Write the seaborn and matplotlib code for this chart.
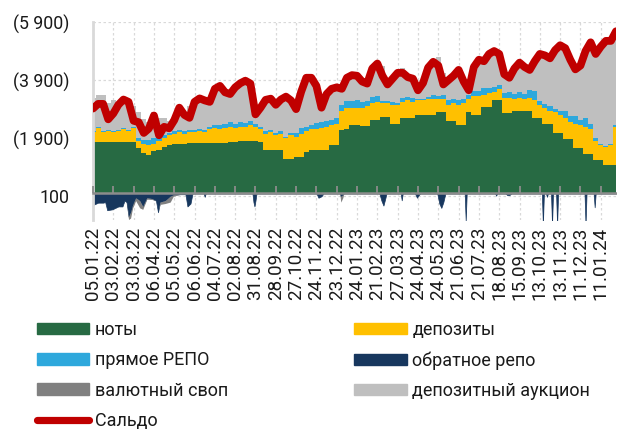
import numpy as np
import pandas as pd
import matplotlib
matplotlib.use("Agg")
import matplotlib.pyplot as plt
import seaborn as sns
from matplotlib.patches import Patch
from matplotlib.lines import Line2D

# ---------------- data (bn rub; absorption shown upward, provision downward) ----------------
tick_labels = ['05.01.22', '03.02.22', '03.03.22', '06.04.22', '05.05.22', '06.06.22', '04.07.22',
               '02.08.22', '31.08.22', '28.09.22', '27.10.22', '24.11.22', '23.12.22', '24.01.23',
               '21.02.23', '27.03.23', '24.04.23', '24.05.23', '21.06.23', '21.07.23', '18.08.23',
               '15.09.23', '13.10.23', '13.11.23', '11.12.23', '11.01.24']
days_per_label = 20      # trading days between axis labels
days_per_point = 5       # sampling of the stacked series below
last_day = 515

series_names = ['ноты', 'прямое РЕПО', 'валютный своп', 'Сальдо',
                'депозиты', 'обратное репо', 'депозитный аукцион']

notes = [1770, 1770, 1770, 1770, 1770, 1770, 1770, 1770, 1770, 1550,
         1400, 1320, 1450, 1500, 1580, 1650, 1690, 1700, 1710, 1720,
         1720, 1740, 1750, 1750, 1720, 1720, 1720, 1760, 1770, 1790,
         1800, 1800, 1790, 1780, 1490, 1490, 1480, 1480, 1200, 1200,
         1250, 1250, 1440, 1480, 1480, 1480, 1480, 1650, 1650, 2180,
         2200, 2350, 2350, 2310, 2310, 2520, 2520, 2630, 2630, 2400,
         2400, 2610, 2610, 2610, 2690, 2690, 2690, 2690, 2790, 2790,
         2500, 2500, 2350, 2350, 2790, 2700, 2700, 2970, 2970, 3210,
         3210, 2780, 2780, 2830, 2830, 2830, 2830, 2610, 2610, 2380,
         2380, 2070, 2070, 1880, 1880, 1570, 1570, 1360, 1360, 1160,
         1160, 960, 960, 960]

deposits = [330, 480, 330, 380, 330, 380, 430, 380, 480, 250,
            300, 330, 250, 300, 320, 350, 360, 400, 340, 380,
            380, 410, 350, 450, 530, 480, 530, 540, 480, 510,
            500, 550, 510, 420, 560, 610, 520, 570, 700, 800,
            700, 800, 710, 720, 720, 770, 820, 700, 750, 670,
            750, 600, 600, 640, 690, 580, 630, 470, 470, 650,
            650, 540, 590, 540, 510, 510, 560, 560, 460, 460,
            550, 600, 700, 750, 460, 650, 650, 430, 480, 290,
            390, 520, 520, 420, 470, 420, 470, 590, 440, 570,
            470, 730, 630, 720, 570, 830, 780, 940, 840, 640,
            490, 640, 690, 1340]

direct_repo = [40, 40, 40, 40, 40, 40, 40, 40, 40, 120,
               150, 200, 200, 120, 100, 80, 80, 80, 80, 80,
               80, 80, 80, 80, 120, 150, 150, 150, 150, 150,
               120, 150, 80, 80, 80, 80, 80, 80, 40, 80,
               120, 200, 150, 150, 220, 220, 180, 180, 180, 180,
               220, 220, 250, 180, 180, 220, 200, 80, 80, 80,
               60, 120, 120, 120, 60, 60, 80, 120, 100, 130,
               180, 150, 150, 150, 150, 180, 180, 220, 180, 150,
               120, 150, 180, 180, 180, 180, 250, 330, 120, 120,
               150, 120, 150, 250, 220, 250, 180, 300, 180, 120,
               40, 40, 40, 40]

deposit_auction = [1160, 1110, 1260, 910, 1060, 960, 1090, 1060, 710, 880,
                   700, 600, 900, 680, 600, 420, 470, 820, 620, 820,
                   1070, 1070, 1070, 890, 1250, 1370, 1100, 990, 1270, 1360,
                   1480, 1300, 520, 700, 1110, 1100, 990, 1120, 1410, 1140,
                   850, 1270, 1700, 1650, 1360, 580, 960, 1090, 1090, 720,
                   830, 920, 870, 740, 620, 1000, 1140, 1220, 670, 840,
                   1060, 1030, 700, 700, 390, 560, 1020, 1180, 1350, 770,
                   720, 820, 1070, 650, 180, 840, 1090, 950, 1190, 1300,
                   1100, 670, 550, 890, 1040, 940, 720, 1040, 1650, 1700,
                   1670, 2030, 2270, 2170, 1950, 1640, 1890, 2320, 2840, 2900,
                   3380, 3630, 3580, 3260]

saldo = [2920, 3080, 3080, 2550, 2750, 3050, 3230, 3150, 2500, 2450,
         2080, 2230, 2680, 2000, 2290, 2240, 2520, 2950, 2700, 2600,
         3150, 3270, 3200, 3150, 3600, 3700, 3480, 3420, 3650, 3790,
         3880, 3780, 2720, 2950, 3220, 3260, 3050, 3230, 3330, 3200,
         2900, 3500, 3980, 3980, 3700, 2950, 3420, 3600, 3650, 3600,
         3980, 4070, 4050, 3850, 3780, 4300, 4470, 4050, 3750, 3950,
         4150, 4150, 4000, 3950, 3550, 3800, 4330, 4530, 4400, 3750,
         3900, 4050, 4250, 3850, 3550, 4350, 4600, 4550, 4800, 4900,
         4800, 4100, 3980, 4300, 4500, 4350, 4250, 4550, 4800, 4750,
         4650, 4930, 5100, 5000, 4600, 4270, 4400, 4900, 5200, 4800,
         5050, 5250, 5250, 5580]

# liquidity provision (trading-day index, value)
neg_days = [0, 5, 10, 12, 14, 19, 25, 29, 31, 33, 35, 37, 39, 42, 46, 49, 53, 58, 62, 64,
            66, 71, 76, 79, 86, 91, 93, 96, 98,
            109, 110, 111, 157, 158, 159, 160, 161, 220, 222, 225, 227, 243, 244, 246, 247,
            282, 284, 286, 288, 289, 303, 304, 305, 317, 319, 321, 322, 339, 341, 343, 345, 347,
            366, 367, 368, 396, 397, 398, 406, 408, 410, 412, 442, 443, 444, 446, 447, 448,
            451, 452, 453, 456, 457, 458, 484, 485, 486, 493, 494, 495, 515]
reverse_repo = [400, 320, 320, 300, 580, 550, 450, 450, 250, 300, 800, 650, 400, 150, 250, 450, 150, 180, 250, 650,
                300, 250, 100, 50, 30, 30, 450, 350, 0,
                0, 120, 0, 0, 300, 450, 250, 0, 0, 150, 100, 0, 0, 100, 50, 0,
                0, 250, 420, 150, 0, 0, 240, 0, 0, 150, 50, 0, 0, 350, 500, 300, 0,
                0, 950, 0, 0, 80, 0, 0, 60, 60, 0, 0, 1100, 0, 0, 120, 0,
                0, 1100, 0, 0, 1100, 0, 0, 1100, 0, 0, 480, 0, 0]
fx_swap = [0, 0, 0, 0, 0, 0, 0, 0, 0, 0, 100, 200, 100, 100, 250, 100, 50, 30, 0, 0,
           80, 100, 200, 50, 0, 0, 0, 0, 0,
           0, 0, 0, 0, 0, 0, 0, 0, 0, 0, 0, 0, 0, 200, 100, 0,
           0, 0, 0, 0, 0, 0, 0, 0, 0, 0, 0, 0, 0, 0, 0, 0, 0,
           0, 0, 0, 0, 0, 0, 0, 0, 0, 0, 0, 0, 0, 0, 0, 0,
           0, 0, 0, 0, 0, 0, 0, 0, 0, 0, 0, 0, 0]

y_ticks = [-100, 1900, 3900, 5900]
y_tick_labels = ['100', '(1 900)', '(3 900)', '(5 900)']

# ---------------- style ----------------
GREEN, YELLOW, BLUE = '#276A43', '#FFC000', '#2EA8DC'
NAVY, DGREY, LGREY, RED = '#17375E', '#808080', '#BFBFBF', '#C00000'
AXC = '#D9D9D9'
TXT = '#1A1A1A'

sns.set_style('white')
plt.rcParams['font.family'] = ['Roboto', 'DejaVu Sans']

fig = plt.figure(figsize=(6.17, 4.29), dpi=100)
ax = fig.add_axes([93 / 617, 1 - 219.5 / 429, 523 / 617, 197.5 / 429])

days = np.arange(len(notes)) * days_per_point
df = pd.DataFrame({'day': days, 'saldo': saldo})

base = np.zeros(len(days))
for vals, col in zip([notes, deposits, direct_repo, deposit_auction], [GREEN, YELLOW, BLUE, LGREY]):
    top = base + np.asarray(vals, dtype=float)
    ax.fill_between(days, base, top, step='mid', color=col, lw=0, zorder=2)
    base = top

nr = np.asarray(reverse_repo, dtype=float)
fs = np.asarray(fx_swap, dtype=float)
ax.fill_between(neg_days, 0, -nr, facecolor=NAVY, edgecolor=NAVY, lw=0.5, zorder=2)
ax.fill_between(neg_days, -nr, -(nr + fs), facecolor=DGREY, lw=0, zorder=2)

sns.lineplot(data=df, x='day', y='saldo', ax=ax, color=RED, linewidth=5.6,
             solid_capstyle='round', solid_joinstyle='round', zorder=5, legend=False)

ymin, ymax = -900, 5900
ax.set_xlim(0, last_day)
ax.set_ylim(ymin, ymax)
ax.set_xlabel('')
ax.set_ylabel('')

xt = np.arange(len(tick_labels)) * days_per_label
ax.set_xticks(xt)
ax.set_xticklabels(tick_labels, rotation=90, fontsize=13.5, color=TXT)
ax.tick_params(axis='x', length=0, pad=5)

ax.set_yticks(y_ticks)
ax.set_yticklabels(y_tick_labels, fontsize=12.8, color=TXT)
ax.set_yticks(np.arange(ymin, ymax + 1, 400), minor=True)
ax.tick_params(axis='y', which='both', direction='out', length=5, width=1.5, color=AXC, pad=12)

ax.set_axisbelow(True)
ax.grid(axis='y', which='major', color=AXC, ls=(0, (2, 2)), lw=0.9)
ax.grid(axis='x', which='major', color=AXC, ls=(0, (2, 2)), lw=0.9)
ax.grid(axis='y', which='minor', visible=False)

for s in ['top', 'right', 'bottom']:
    ax.spines[s].set_visible(False)
ax.spines['left'].set_color(AXC)
ax.spines['left'].set_linewidth(2)

# category axis line crossing at zero
sec = ax.secondary_xaxis((0 - ymin) / (ymax - ymin))
sec.set_xticks(xt)
sec.tick_params(axis='x', direction='in', length=5, width=1.3, color='#8C8C8C', labelbottom=False, labeltop=False)
for s in sec.spines.values():
    s.set_color('#8C8C8C')
    s.set_linewidth(1.8)
sec.set_zorder(4)

handles = [
    Patch(color=GREEN, label=series_names[0]),
    Patch(color=BLUE, label=series_names[1]),
    Patch(color=DGREY, label=series_names[2]),
    Line2D([], [], color=RED, lw=5.2, solid_capstyle='round', label=series_names[3]),
    Patch(color=YELLOW, label=series_names[4]),
    Patch(color=NAVY, label=series_names[5]),
    Patch(color=LGREY, label=series_names[6]),
]
fig.legend(handles=handles, ncol=2, loc='upper left', bbox_to_anchor=(37 / 617, 1 - 321 / 429),
           frameon=False, fontsize=13, handlelength=2.9, handleheight=0.6, handletextpad=0.3,
           columnspacing=7.0, labelspacing=0.68, borderpad=0, borderaxespad=0, labelcolor=TXT)

fig.savefig('out.png', dpi=100)
